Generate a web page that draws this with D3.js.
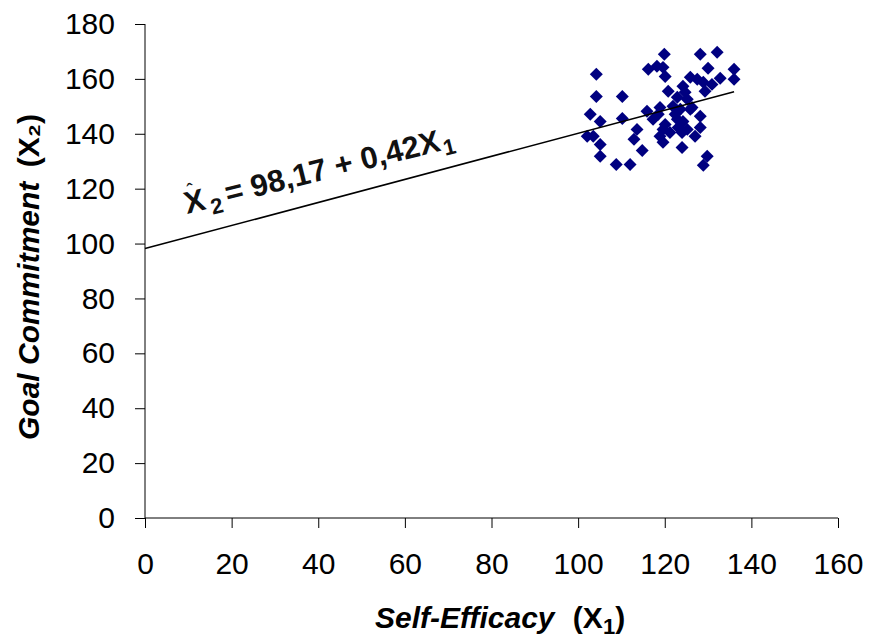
<!DOCTYPE html>
<html>
<head>
<meta charset="utf-8">
<script src="https://cdn.jsdelivr.net/npm/d3@7"></script>
<style>
  body { margin: 0; background: #fff; }
  text { font-family: "Liberation Sans", Arial, sans-serif; }
</style>
</head>
<body>
<svg id="chart" width="871" height="641"></svg>
<script>
// self-efficacy (x1) and goal commitment (x2)
var selfEfficacy = [104.2, 104.2, 110.2, 102.8, 105.1, 110.2, 102.1, 103.5, 105.1, 105.1,
    108.8, 112.0, 114.8, 112.9, 113.6, 115.9, 117.3, 118.9, 119.6, 118.9,
    119.6, 120.8, 119.9, 116.2, 118.2, 119.6, 120.1, 128.2, 132.1, 130.0,
    136.0, 136.0, 132.8, 125.9, 127.5, 128.9, 129.3, 124.2, 124.7, 122.9,
    125.2, 121.9, 123.6, 125.9, 128.2, 122.9, 124.2, 123.1, 125.2, 128.2,
    127.0, 124.0, 129.8, 128.9, 120.1, 121.2, 124.0, 126.3, 122.4, 130.9,
    118.5];
var goalCommitment = [161.7, 153.6, 153.6, 147.1, 144.5, 145.6, 139.1, 139.1, 136.1, 131.8,
    128.8, 128.8, 133.9, 138.0, 141.6, 148.2, 145.3, 149.6, 141.6, 139.1,
    136.9, 155.5, 169.0, 163.5, 164.6, 164.2, 160.9, 169.0, 169.7, 163.9,
    163.5, 159.9, 160.2, 160.6, 159.9, 158.8, 155.5, 157.3, 155.1, 153.3,
    152.6, 150.0, 148.9, 148.9, 146.4, 145.3, 144.5, 142.3, 141.6, 142.3,
    139.1, 135.0, 131.8, 128.5, 143.4, 140.5, 140.5, 149.6, 147.1, 158.0,
    147.1];

var xTicks = [0, 20, 40, 60, 80, 100, 120, 140, 160];
var yTicks = [0, 20, 40, 60, 80, 100, 120, 140, 160, 180];

// fitted line X2 = 98.17 + 0.42 X1, drawn from 0 to 136
var intercept = 98.17, slope = 0.42;
var fitRange = [0, 136];

var margin = {top: 24, right: 33, bottom: 123, left: 145};
var width = 871 - margin.left - margin.right;
var height = 641 - margin.top - margin.bottom;

var svg = d3.select('#chart');
var g = svg.append('g')
    .attr('transform', 'translate(' + margin.left + ',' + margin.top + ')');

var x = d3.scaleLinear().domain([0, 160]).range([0, width]);
var y = d3.scaleLinear().domain([0, 180]).range([height, 0]);

var xAxis = g.append('g')
    .attr('transform', 'translate(0,' + height + ')')
    .call(d3.axisBottom(x).tickValues(xTicks).tickSize(10).tickPadding(25));

var yAxis = g.append('g')
    .call(d3.axisLeft(y).tickValues(yTicks).tickSize(10).tickPadding(20));

[xAxis, yAxis].forEach(function (a) {
    a.selectAll('path').attr('stroke', '#000').attr('stroke-width', 1);
    a.selectAll('line').attr('stroke', '#000').attr('stroke-width', 1);
    a.selectAll('text')
        .attr('fill', '#000')
        .style('font-size', '30px')
        .style('font-family', '"Liberation Sans", Arial, sans-serif');
});
xAxis.select('.domain').attr('d', 'M0,0H' + width);
yAxis.select('.domain').attr('d', 'M0,0V' + height);

// points
g.append('g').selectAll('path')
    .data(selfEfficacy)
    .enter().append('path')
    .attr('d', d3.symbol().type(d3.symbolSquare).size(84))
    .attr('transform', function (d, i) {
        return 'translate(' + x(d) + ',' + y(goalCommitment[i]) + ') rotate(45)';
    })
    .attr('fill', '#000080');

// regression line
g.append('line')
    .attr('x1', x(fitRange[0])).attr('y1', y(intercept + slope * fitRange[0]))
    .attr('x2', x(fitRange[1])).attr('y2', y(intercept + slope * fitRange[1]))
    .attr('stroke', '#000')
    .attr('stroke-width', 1.6);

// equation label
var eq = svg.append('g')
    .attr('transform', 'translate(187,214) rotate(-14)');
var eqText = eq.append('text')
    .style('font-size', '31px')
    .style('font-weight', 'bold')
    .attr('fill', '#111');
eqText.append('tspan').text('X');
eqText.append('tspan').attr('dx', 4).attr('dy', 7).style('font-size', '22px').text('2');
eqText.append('tspan').attr('dx', 5).attr('dy', -7).text('= 98,17 + 0,42X');
eqText.append('tspan').attr('dx', 2).attr('dy', 6).style('font-size', '22px').text('1');
eq.append('text')
    .attr('x', 6).attr('y', -15)
    .style('font-size', '20px')
    .attr('fill', '#111')
    .text('ˆ');

// axis titles
var xt = svg.append('text')
    .attr('x', 375).attr('y', 628)
    .style('font-size', '30px')
    .style('font-weight', 'bold');
xt.append('tspan').style('font-style', 'italic').text('Self-Efficacy');
xt.append('tspan').attr('dx', 10).text('\u00a0(X');
xt.append('tspan').attr('dy', 6).style('font-size', '22px').text('1');
xt.append('tspan').attr('dy', -6).text(')');

var yt = svg.append('text')
    .attr('transform', 'translate(39,440) rotate(-90)')
    .style('font-size', '30px')
    .style('font-weight', 'bold');
yt.append('tspan').style('font-style', 'italic').text('Goal Commitment');
yt.append('tspan').attr('dx', 6).text('\u00a0(X₂)');
</script>
</body>
</html>
